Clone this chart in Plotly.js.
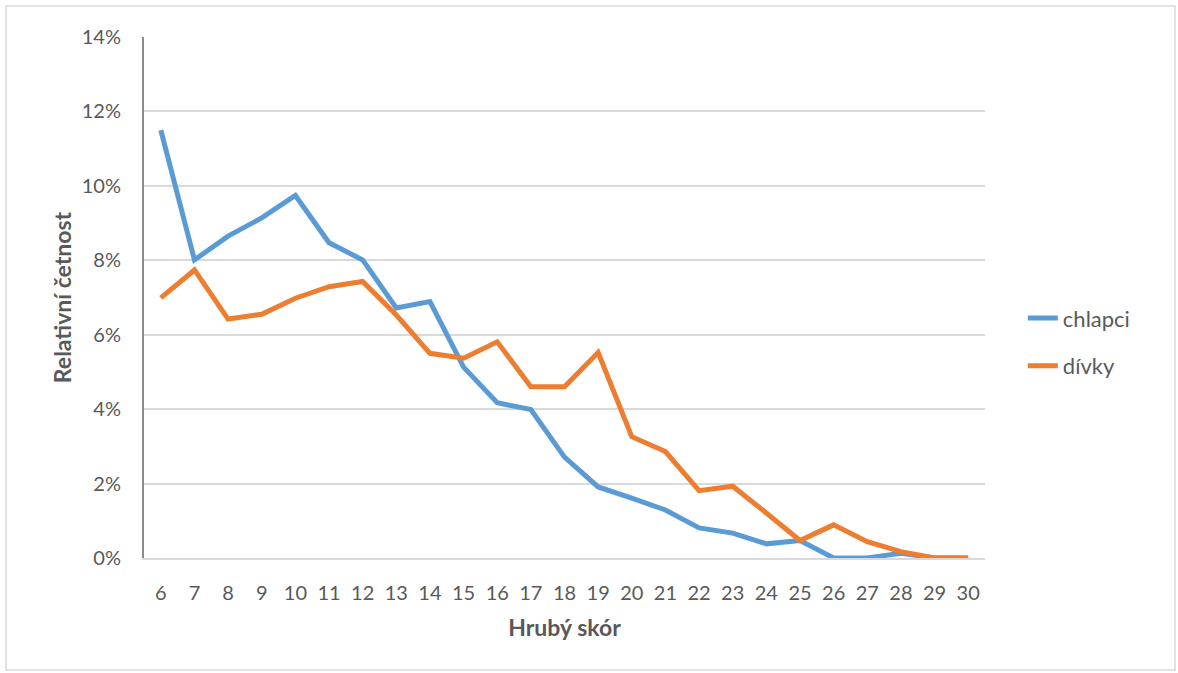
<!DOCTYPE html>
<html>
<head>
<meta charset="utf-8">
<script src="https://cdn.plot.ly/plotly-3.0.1.min.js"></script>
<style>
  html, body { margin: 0; padding: 0; background: #fff; }
  #chart { width: 1178px; height: 673px; }
</style>
</head>
<body>
<div id="chart"></div>
<script>
const categories = [6,7,8,9,10,11,12,13,14,15,16,17,18,19,20,21,22,23,24,25,26,27,28,29,30];
const chlapci = [11.50,8.01,8.65,9.14,9.74,8.47,8.01,6.72,6.89,5.13,4.17,3.99,2.71,1.91,1.61,1.29,0.81,0.67,0.38,0.47,0.00,0.00,0.13,0.00,0.00];
const divky   = [6.99,7.74,6.42,6.55,6.98,7.29,7.43,6.53,5.50,5.37,5.81,4.60,4.60,5.52,3.26,2.86,1.81,1.93,1.21,0.47,0.89,0.44,0.17,0.00,0.00];
const seriesNames = ['chlapci', 'dívky'];
const yTickVals = [0,2,4,6,8,10,12,14];
const yTickText = ['0%','2%','4%','6%','8%','10%','12%','14%'];
const xTitle = 'Hrubý skór';
const yTitle = 'Relativní četnost';

const font = 'Lato, "Open Sans", "Noto Sans", sans-serif';
const textColor = '#595959';

const traces = [
  { x: categories, y: chlapci, name: seriesNames[0], legendgroup: 'g1', type: 'scatter', mode: 'lines',
    line: { color: '#5B9BD5', width: 5 } },
  { x: categories, y: divky, name: seriesNames[1], legendgroup: 'g2', type: 'scatter', mode: 'lines',
    line: { color: '#ED7D31', width: 5 } }
];

const layout = {
  width: 1178, height: 673,
  margin: { l: 144, r: 193, t: 37, b: 115 },
  paper_bgcolor: '#ffffff', plot_bgcolor: '#ffffff',
  font: { family: font, color: textColor, size: 20 },
  showlegend: true,
  legend: { x: 1.045, y: 0.414, yanchor: 'middle', xanchor: 'left',
            font: { size: 22, color: textColor }, tracegroupgap: 16 },
  xaxis: {
    type: 'linear', range: [5.5, 30.5],
    tickvals: categories, ticktext: categories.map(String),
    showgrid: false, zeroline: false,
    showline: true, linecolor: '#d9d9d9', linewidth: 2,
    ticks: '', ticklabelstandoff: 16,
    tickfont: { size: 20, color: textColor },
    title: { text: xTitle, font: { size: 23, color: textColor, family: font, weight: 'bold' }, standoff: 17 }
  },
  yaxis: {
    range: [0, 14], tickvals: yTickVals, ticktext: yTickText,
    showgrid: true, gridcolor: '#d9d9d9', gridwidth: 2,
    zeroline: false, showline: true, linecolor: '#8c8c8c', linewidth: 2,
    ticks: '', ticklabelstandoff: 17,
    tickfont: { size: 20, color: textColor },
    title: { text: yTitle, font: { size: 23, color: textColor, family: font, weight: 'bold' }, standoff: 4 }
  },
  shapes: [
    { type: 'rect', xref: 'paper', yref: 'paper',
      x0: (6 - 144) / 841, x1: (1175 - 144) / 841,
      y0: (558 - 670) / 521, y1: (558 - 6) / 521,
      line: { color: '#d9d9d9', width: 1.5 }, fillcolor: 'rgba(0,0,0,0)', layer: 'below' }
  ]
};

Plotly.newPlot('chart', traces, layout, { displayModeBar: false, staticPlot: true });
</script>
</body>
</html>
